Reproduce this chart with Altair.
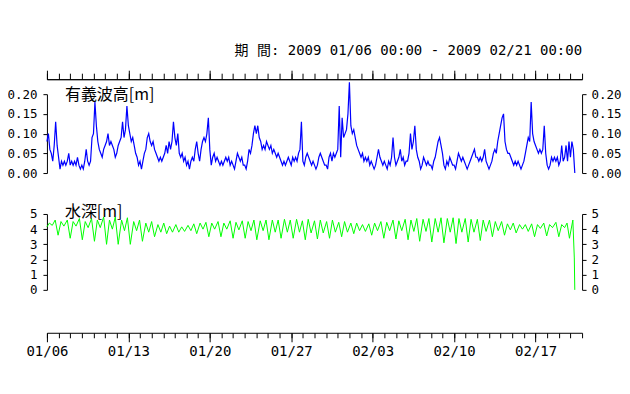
import altair as alt
import pandas as pd

TITLE = "期 間: 2009 01/06 00:00 - 2009 02/21 00:00"
WAVE_LABEL = "有義波高[m]"
DEPTH_LABEL = "水深[m]"
START = "2009-01-06"
END = "2009-02-21"

# significant wave height [m], every 3 hours from 2009-01-06 00:00
wave_height = [
    0.08, 0.10, 0.06, 0.05, 0.03, 0.07, 0.13, 0.07,
    0.04, 0.01, 0.03, 0.02, 0.03, 0.02, 0.03, 0.05,
    0.02, 0.03, 0.02, 0.03, 0.02, 0.04, 0.02, 0.01,
    0.02, 0.01, 0.03, 0.06, 0.03, 0.02, 0.03, 0.09,
    0.10, 0.18, 0.12, 0.08, 0.06, 0.05, 0.04, 0.06,
    0.07, 0.08, 0.10, 0.07, 0.08, 0.07, 0.06, 0.04,
    0.05, 0.07, 0.08, 0.09, 0.13, 0.09, 0.11, 0.17,
    0.12, 0.10, 0.08, 0.09, 0.07, 0.05, 0.04, 0.02,
    0.03, 0.01, 0.03, 0.05, 0.06, 0.09, 0.10, 0.08,
    0.07, 0.08, 0.06, 0.05, 0.04, 0.03, 0.04, 0.03,
    0.04, 0.05, 0.07, 0.05, 0.08, 0.06, 0.08, 0.13,
    0.09, 0.07, 0.10, 0.05, 0.04, 0.05, 0.03, 0.04,
    0.02, 0.03, 0.01, 0.03, 0.04, 0.03, 0.06, 0.08,
    0.05, 0.03, 0.06, 0.08, 0.09, 0.08, 0.10, 0.14,
    0.06, 0.02, 0.04, 0.05, 0.03, 0.04, 0.03, 0.02,
    0.03, 0.02, 0.03, 0.04, 0.03, 0.04, 0.02, 0.03,
    0.02, 0.01, 0.03, 0.05, 0.04, 0.03, 0.04, 0.02,
    0.02, 0.01, 0.03, 0.06, 0.05, 0.07, 0.10, 0.12,
    0.10, 0.12, 0.09, 0.08, 0.06, 0.07, 0.06, 0.08,
    0.07, 0.06, 0.07, 0.05, 0.06, 0.05, 0.04, 0.05,
    0.04, 0.03, 0.02, 0.03, 0.02, 0.03, 0.04, 0.03,
    0.02, 0.04, 0.03, 0.04, 0.03, 0.05, 0.06, 0.13,
    0.03, 0.02, 0.04, 0.05, 0.04, 0.03, 0.02, 0.03,
    0.02, 0.01, 0.02, 0.04, 0.05, 0.04, 0.03, 0.02,
    0.02, 0.01, 0.04, 0.05, 0.03, 0.05, 0.04, 0.05,
    0.06, 0.17, 0.04, 0.14, 0.09, 0.10, 0.11, 0.15,
    0.23, 0.12, 0.10, 0.11, 0.09, 0.07, 0.06, 0.05,
    0.04, 0.05, 0.03, 0.04, 0.03, 0.04, 0.02, 0.03,
    0.02, 0.01, 0.02, 0.04, 0.06, 0.04, 0.03, 0.02,
    0.03, 0.02, 0.01, 0.03, 0.02, 0.04, 0.09, 0.04,
    0.02, 0.03, 0.04, 0.06, 0.03, 0.04, 0.02, 0.03,
    0.03, 0.05, 0.10, 0.06, 0.08, 0.12, 0.06, 0.04,
    0.03, 0.01, 0.02, 0.04, 0.03, 0.02, 0.03, 0.02,
    0.02, 0.01, 0.03, 0.04, 0.06, 0.08, 0.09, 0.07,
    0.05, 0.02, 0.01, 0.03, 0.02, 0.04, 0.03, 0.02,
    0.02, 0.01, 0.03, 0.05, 0.04, 0.03, 0.04, 0.03,
    0.02, 0.01, 0.02, 0.03, 0.04, 0.05, 0.06, 0.04,
    0.04, 0.03, 0.04, 0.03, 0.04, 0.06, 0.03, 0.02,
    0.01, 0.02, 0.03, 0.05, 0.06, 0.05, 0.08, 0.10,
    0.12, 0.14, 0.15, 0.08, 0.06, 0.05, 0.05, 0.04,
    0.03, 0.02, 0.03, 0.02, 0.03, 0.02, 0.01, 0.02,
    0.03, 0.05, 0.07, 0.09, 0.08, 0.18, 0.10, 0.08,
    0.07, 0.06, 0.05, 0.06, 0.05, 0.06, 0.12, 0.05,
    0.02, 0.01, 0.02, 0.04, 0.03, 0.04, 0.03, 0.04,
    0.02, 0.03, 0.07, 0.03, 0.04, 0.07, 0.03, 0.08,
    0.04, 0.08, 0.06, 0.00,
]
WAVE_STEP_HOURS = 3

# water depth [m]: low waters, high waters and record edges (hours from start)
low_hours = [
    23, 35, 48, 60, 73, 85, 98, 110, 123, 135,
    147, 160, 172, 185, 197, 210, 222, 235, 247, 259,
    272, 284, 297, 309, 322, 334, 346, 359, 371, 384,
    396, 409, 421, 433, 446, 458, 471, 483, 496, 508,
    521, 533, 545, 558, 570, 583, 595, 608, 620, 633,
    645, 657, 670, 682, 695, 707, 720, 732, 745, 757,
    769, 782, 794, 807, 819, 832, 844, 856, 869, 881,
    894, 906, 919, 931, 944, 956, 968, 981, 993, 1006,
    1018, 1031, 1043, 1056, 1068, 1078,
]
low_depth = [
    3.6, 4.2, 3.4, 4.2, 3.3, 4.1, 3.2, 4.1, 3.0, 4.0,
    3.0, 3.9, 3.0, 3.9, 3.2, 3.8, 3.5, 3.8, 3.7, 3.8,
    3.8, 3.85, 3.9, 3.7, 4.0, 3.5, 4.0, 3.5, 4.0, 3.4,
    3.95, 3.4, 3.9, 3.3, 3.9, 3.3, 3.8, 3.4, 3.8, 3.4,
    3.8, 3.3, 3.75, 3.35, 3.75, 3.4, 3.8, 3.5, 3.8, 3.7,
    3.9, 3.85, 3.6, 3.9, 3.4, 3.9, 3.35, 3.9, 3.3, 3.85,
    3.2, 3.85, 3.15, 3.8, 3.1, 3.8, 3.05, 3.8, 3.15, 3.8,
    3.25, 3.85, 3.5, 3.9, 3.6, 3.95, 3.75, 4.0, 3.85, 3.5,
    4.05, 3.55, 4.1, 3.5, 4.1, 3.4,
]
high_hours = [
    17, 29, 42, 54, 67, 79, 92, 104, 117, 129,
    141, 154, 166, 179, 191, 204, 216, 229, 241, 253,
    266, 278, 291, 303, 316, 328, 340, 353, 365, 378,
    390, 403, 415, 427, 440, 452, 465, 477, 490, 502,
    515, 527, 539, 552, 564, 577, 589, 602, 614, 627,
    639, 651, 664, 676, 689, 701, 714, 726, 739, 751,
    763, 776, 788, 801, 813, 826, 838, 850, 863, 875,
    888, 900, 913, 925, 938, 950, 962, 975, 987, 1000,
    1012, 1025, 1037, 1050, 1062, 1073,
]
high_depth = [
    4.6, 4.5, 4.6, 4.5, 4.7, 4.5, 4.7, 4.6, 4.8, 4.6,
    4.8, 4.6, 4.75, 4.5, 4.6, 4.4, 4.5, 4.3, 4.4, 4.2,
    4.3, 4.15, 4.25, 4.35, 4.4, 4.45, 4.4, 4.5, 4.4, 4.55,
    4.45, 4.55, 4.5, 4.6, 4.55, 4.6, 4.6, 4.6, 4.65, 4.6,
    4.65, 4.55, 4.65, 4.55, 4.6, 4.5, 4.6, 4.45, 4.5, 4.4,
    4.4, 4.3, 4.35, 4.4, 4.5, 4.45, 4.6, 4.55, 4.65, 4.6,
    4.7, 4.65, 4.7, 4.7, 4.75, 4.7, 4.75, 4.7, 4.7, 4.65,
    4.65, 4.6, 4.6, 4.5, 4.5, 4.35, 4.4, 4.3, 4.3, 4.35,
    4.3, 4.4, 4.3, 4.45, 4.3, 4.4,
]
edge_hours = [0, 5, 11, 1085, 1088, 1089]
edge_depth = [4.15, 4.4, 4.25, 4.6, 2.1, 0.0]

WAVE_TICKS = [0, 0.05, 0.10, 0.15, 0.20]
DEPTH_TICKS = [0, 1, 2, 3, 4, 5]

# ---------------------------------------------------------------- tables
t0 = pd.Timestamp(START)
wave_df = pd.DataFrame({
    "t": t0 + pd.to_timedelta([i * WAVE_STEP_HOURS for i in range(len(wave_height))], unit="h"),
    "v": wave_height,
})
dh = low_hours + high_hours + edge_hours
dv = low_depth + high_depth + edge_depth
depth_df = pd.DataFrame({"h": dh, "v": dv}).sort_values("h")
depth_df["t"] = t0 + pd.to_timedelta(depth_df["h"], unit="h")
depth_df = depth_df[["t", "v"]]


def dt(d):
    return alt.DateTime(year=d.year, month=d.month, date=d.day)


day_ticks = [dt(d) for d in pd.date_range(START, END, freq="D")]
week_ticks = [dt(d) for d in pd.date_range(START, END, freq="7D")]
x_scale = alt.Scale(domain=[dt(pd.Timestamp(START)), dt(pd.Timestamp(END))])

NUM_FONT = "DejaVu Sans Mono"
JP_FONT = "Noto Sans CJK JP"

W, H = 536, 254
wave_scale = alt.Scale(domain=[0, 0.2], range=[94, 15], nice=False, zero=False)
depth_scale = alt.Scale(domain=[0, 5], range=[211, 135], nice=False, zero=False)


def xaxis(orient, values, size, labels):
    kw = dict(orient=orient, values=values, tickSize=size, labels=labels,
              domain=not labels, grid=False, title=None, tickColor="black",
              domainColor="black")
    if labels:
        kw.update(format="%m/%d", labelFont=NUM_FONT, labelFontSize=14,
                  labelFlush=False, labelPadding=3, labelColor="black",
                  labelOverlap=False)
    return alt.Axis(**kw)


def yaxis(orient, values, fmt):
    return alt.Axis(orient=orient, values=values, format=fmt, tickSize=4,
                    labelPadding=6 if orient == "left" else 5, labelFont=NUM_FONT,
                    labelFontSize=12.5, labelColor="black", grid=False, title=None,
                    tickColor="black", domainColor="black", labelOverlap=False)


wave_left = alt.Chart(wave_df).mark_line(color="#0000ff", strokeWidth=1.2).encode(
    x=alt.X("t:T", scale=x_scale, axis=xaxis("top", day_ticks, 6, False)),
    y=alt.Y("v:Q", scale=wave_scale, axis=yaxis("left", WAVE_TICKS, ".2f")),
)
wave_right = alt.Chart(wave_df).mark_line(strokeOpacity=0).encode(
    x=alt.X("t:T", scale=x_scale, axis=xaxis("top", week_ticks, 9, False)),
    y=alt.Y("v:Q", scale=wave_scale, axis=yaxis("right", WAVE_TICKS, ".2f")),
)
depth_left = alt.Chart(depth_df).mark_line(color="#00ff00", strokeWidth=1).encode(
    x=alt.X("t:T", scale=x_scale, axis=xaxis("bottom", day_ticks, 5, False)),
    y=alt.Y("v:Q", scale=depth_scale, axis=yaxis("left", DEPTH_TICKS, "d")),
)
depth_right = alt.Chart(depth_df).mark_line(strokeOpacity=0).encode(
    x=alt.X("t:T", scale=x_scale, axis=xaxis("bottom", week_ticks, 9, True)),
    y=alt.Y("v:Q", scale=depth_scale, axis=yaxis("right", DEPTH_TICKS, "d")),
)

title_text = alt.Chart(pd.DataFrame({"s": [TITLE]})).mark_text(
    align="right", baseline="middle", fontSize=14,
    font=f"{NUM_FONT}, {JP_FONT}", color="black",
).encode(x=alt.value(W), y=alt.value(-28), text="s:N")
wave_text = alt.Chart(pd.DataFrame({"s": [WAVE_LABEL]})).mark_text(
    align="left", baseline="middle", fontSize=16, font=JP_FONT, color="black",
).encode(x=alt.value(18), y=alt.value(16), text="s:N")
depth_text = alt.Chart(pd.DataFrame({"s": [DEPTH_LABEL]})).mark_text(
    align="left", baseline="middle", fontSize=16, font=JP_FONT, color="black",
).encode(x=alt.value(18), y=alt.value(133), text="s:N")

chart = alt.layer(
    wave_left, wave_right, depth_left, depth_right, title_text, wave_text, depth_text
).resolve_scale(y="independent").resolve_axis(
    x="independent", y="independent"
).properties(
    width=W, height=H,
    autosize=alt.AutoSizeParams(type="none"),
    padding={"left": 39, "top": 71, "right": 40, "bottom": 50},
).configure(background="white").configure_view(stroke=None)

chart.save("out.html", embed_options={"renderer": "svg", "actions": False})
